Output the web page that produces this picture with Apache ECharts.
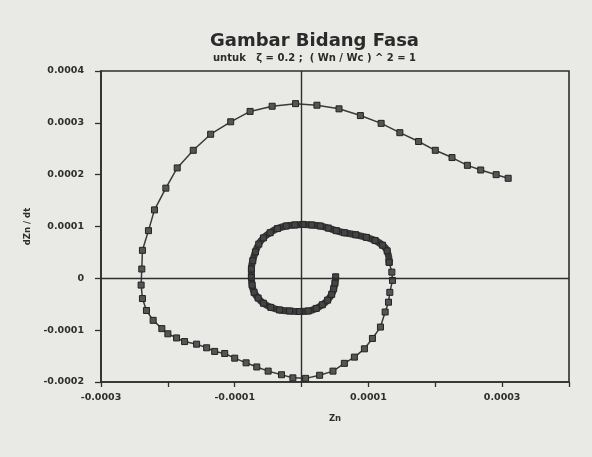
<!DOCTYPE html>
<html>
<head>
<meta charset="utf-8">
<script src="https://cdn.jsdelivr.net/npm/echarts@6/dist/echarts.min.js"></script>
<style>
html,body{margin:0;padding:0;background:#e9e9e6;}
#chart{width:592px;height:457px;}
</style>
</head>
<body>
<div id="chart"></div>
<script>
// Outer trajectory (spaced markers)
var outerZn = [3.09e-4,2.91e-4,2.68e-4,2.48e-4,2.25e-4,2.00e-4,1.75e-4,1.47e-4,1.19e-4,0.88e-4,0.56e-4,0.23e-4,-0.09e-4,-0.44e-4,-0.77e-4,-1.06e-4,-1.36e-4,-1.62e-4,-1.86e-4,-2.03e-4,-2.20e-4,-2.29e-4,-2.38e-4,-2.39e-4,-2.40e-4,-2.38e-4,-2.32e-4,-2.22e-4,-2.09e-4,-2.00e-4,-1.87e-4,-1.75e-4,-1.57e-4,-1.42e-4,-1.30e-4,-1.15e-4,-1.00e-4,-0.83e-4,-0.67e-4,-0.50e-4,-0.30e-4,-0.13e-4,0.06e-4,0.27e-4,0.47e-4,0.64e-4,0.79e-4,0.94e-4,1.06e-4,1.18e-4,1.25e-4,1.30e-4,1.32e-4,1.36e-4,1.35e-4,1.31e-4];
var outerDZn = [1.93e-4,2.00e-4,2.09e-4,2.18e-4,2.33e-4,2.47e-4,2.64e-4,2.81e-4,2.99e-4,3.14e-4,3.27e-4,3.34e-4,3.37e-4,3.32e-4,3.22e-4,3.02e-4,2.78e-4,2.47e-4,2.13e-4,1.74e-4,1.32e-4,0.92e-4,0.54e-4,0.18e-4,-0.13e-4,-0.39e-4,-0.62e-4,-0.81e-4,-0.97e-4,-1.07e-4,-1.15e-4,-1.22e-4,-1.27e-4,-1.34e-4,-1.41e-4,-1.45e-4,-1.54e-4,-1.63e-4,-1.71e-4,-1.79e-4,-1.86e-4,-1.92e-4,-1.93e-4,-1.87e-4,-1.79e-4,-1.64e-4,-1.52e-4,-1.36e-4,-1.16e-4,-0.94e-4,-0.65e-4,-0.46e-4,-0.27e-4,-0.04e-4,0.12e-4,0.31e-4];
// Inner spiral (dense markers)
var innerZn = [1.31e-4,1.28e-4,1.21e-4,1.10e-4,0.97e-4,0.81e-4,0.64e-4,0.52e-4,0.40e-4,0.28e-4,0.15e-4,0.02e-4,-0.10e-4,-0.23e-4,-0.36e-4,-0.47e-4,-0.57e-4,-0.64e-4,-0.69e-4,-0.73e-4,-0.75e-4,-0.75e-4,-0.74e-4,-0.71e-4,-0.65e-4,-0.57e-4,-0.46e-4,-0.33e-4,-0.18e-4,-0.03e-4,0.10e-4,0.22e-4,0.31e-4,0.39e-4,0.45e-4,0.48e-4,0.50e-4,0.51e-4];
var innerDZn = [0.31e-4,0.53e-4,0.64e-4,0.73e-4,0.79e-4,0.84e-4,0.88e-4,0.92e-4,0.97e-4,1.01e-4,1.03e-4,1.04e-4,1.03e-4,1.01e-4,0.96e-4,0.88e-4,0.78e-4,0.66e-4,0.51e-4,0.34e-4,0.18e-4,0.02e-4,-0.13e-4,-0.27e-4,-0.38e-4,-0.48e-4,-0.56e-4,-0.61e-4,-0.63e-4,-0.64e-4,-0.63e-4,-0.58e-4,-0.51e-4,-0.42e-4,-0.31e-4,-0.20e-4,-0.09e-4,0.03e-4];

var xLabelValues = [-0.0003,-0.0001,0.0001,0.0003];
var yLabelValues = [-0.0002,-0.0001,0,0.0001,0.0002,0.0003,0.0004];

function pairs(a,b){var r=[];for(var i=0;i<a.length;i++){r.push([a[i],b[i]]);}return r;}
function fmt(v){ if(Math.abs(v)<1e-12) return '0'; return v.toFixed(4); }

var ink = '#2e2e2e';
var chart = echarts.init(document.getElementById('chart'), null, {renderer:'canvas'});
chart.setOption({
  backgroundColor:'#e9e9e6',
  animation:false,
  title:[
    {text:'Gambar Bidang Fasa', left:210, top:32, padding:0,
     textStyle:{fontFamily:'DejaVu Sans', fontSize:18, fontWeight:'bold', color:'#2a2a2a'}},
    {text:'untuk   ζ = 0.2 ;  ( Wn / Wc ) ^ 2 = 1', left:213, top:53, padding:0,
     textStyle:{fontFamily:'DejaVu Sans', fontSize:10, fontWeight:'bold', color:'#2a2a2a'}}
  ],
  grid:{left:101, right:23, top:71, bottom:75, show:true, borderColor:ink, borderWidth:1.6, backgroundColor:'transparent'},
  xAxis:{
    type:'value', min:-0.0003, max:0.0004, interval:0.0001,
    name:'Zn', nameLocation:'middle', nameGap:32,
    nameTextStyle:{fontFamily:'DejaVu Sans', fontSize:8.5, fontWeight:'bold', color:ink},
    axisLine:{show:true, onZero:false, lineStyle:{color:ink, width:1.6}},
    axisTick:{show:true, inside:false, length:5, lineStyle:{color:ink, width:1.3}},
    splitLine:{show:false},
    axisLabel:{margin:11, fontFamily:'DejaVu Sans', fontSize:9.5, fontWeight:'bold', color:ink,
      formatter:function(v){
        for(var i=0;i<xLabelValues.length;i++){ if(Math.abs(v-xLabelValues[i])<1e-9) return fmt(xLabelValues[i]); }
        return '';
      }}
  },
  yAxis:{
    type:'value', min:-0.0002, max:0.0004, interval:0.0001,
    name:'dZn / dt', nameLocation:'middle', nameGap:61, nameRotate:90,
    nameTextStyle:{fontFamily:'DejaVu Sans', fontSize:8.5, fontWeight:'bold', color:ink},
    axisLine:{show:true, onZero:false, lineStyle:{color:ink, width:1.6}},
    axisTick:{show:true, inside:false, length:6, lineStyle:{color:ink, width:1.3}},
    splitLine:{show:false},
    axisLabel:{margin:17, fontFamily:'DejaVu Sans', fontSize:9.5, fontWeight:'bold', color:ink,
      formatter:function(v){
        for(var i=0;i<yLabelValues.length;i++){ if(Math.abs(v-yLabelValues[i])<1e-9) return fmt(yLabelValues[i]); }
        return '';
      }}
  },
  series:[
    {
      type:'line', data:pairs(outerZn,outerDZn), smooth:false,
      symbol:'rect', symbolSize:6, showAllSymbol:true,
      lineStyle:{color:'#3a3a3a', width:1.5},
      itemStyle:{color:'#555555', borderColor:'#222222', borderWidth:1},
      markLine:{silent:true, symbol:['none','none'], label:{show:false},
        lineStyle:{type:'solid', color:ink, width:1.4},
        data:[{xAxis:0},{yAxis:0}]},
      z:3
    },
    {
      type:'line', data:pairs(innerZn,innerDZn), smooth:true,
      symbol:'rect', symbolSize:6, showAllSymbol:true,
      lineStyle:{color:'#383838', width:7},
      itemStyle:{color:'#444444', borderColor:'#262626', borderWidth:1},
      z:4
    }
  ]
});
</script>
</body>
</html>
